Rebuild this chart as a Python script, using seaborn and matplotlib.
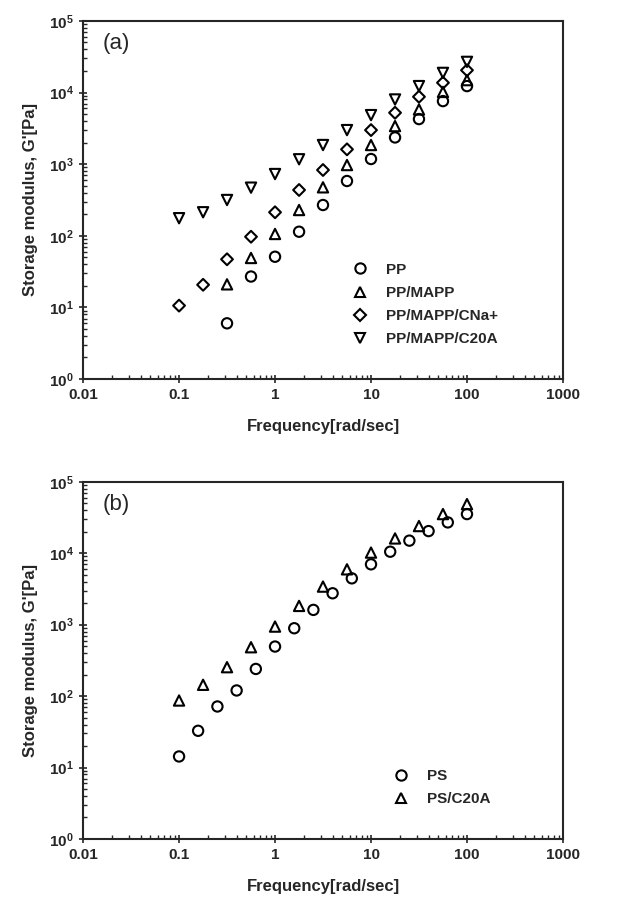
import numpy as np
import pandas as pd
import seaborn as sns
import matplotlib.pyplot as plt

# panel (a) - PP series
freq_a = [0.1, 0.178, 0.316, 0.562, 1, 1.78, 3.16, 5.62, 10, 17.8, 31.6, 56.2, 100]
g_pp = [None, None, 6.0, 27, 51, 114, 269, 582, 1180, 2360, 4260, 7590, 12300]
g_pp_mapp = [None, None, 21, 49, 106, 229, 475, 972, 1850, 3400, 5800, 10200, 14900]
g_pp_mapp_cna = [10.6, 20.7, 47, 97, 213, 436, 829, 1610, 2990, 5220, 8730, 13700, 20500]
g_pp_mapp_c20a = [176, 213, 316, 470, 728, 1170, 1850, 2990, 4840, 8000, 12300, 18800, 26800]
series_a = ['PP', 'PP/MAPP', 'PP/MAPP/CNa+', 'PP/MAPP/C20A']

# panel (b) - PS series
freq_ps = [0.1, 0.158, 0.251, 0.398, 0.631, 1, 1.585, 2.51, 3.98, 6.31, 10, 15.85, 25.1, 39.8, 63.1, 100]
g_ps = [14.3, 32.7, 71.6, 120, 240, 494, 891, 1610, 2750, 4450, 6990, 10500, 15000, 20400, 27000, 35300]
freq_psc = [0.1, 0.178, 0.316, 0.562, 1, 1.78, 3.16, 5.62, 10, 17.8, 31.6, 56.2, 100]
g_psc = [86.8, 144, 254, 483, 940, 1830, 3410, 5950, 10200, 16100, 24000, 35300, 48700]
series_b = ['PS', 'PS/C20A']

xticks = [0.01, 0.1, 1, 10, 100, 1000]
xtick_labels = ['0.01', '0.1', '1', '10', '100', '1000']
yticks = [1, 10, 100, 1000, 1e4, 1e5]
ytick_labels = [r'$\mathbf{10^{%d}}$' % i for i in range(6)]

sns.set_style('ticks')
plt.rcParams['font.family'] = ['Liberation Sans', 'DejaVu Sans']
plt.rcParams['mathtext.fontset'] = 'custom'
plt.rcParams['mathtext.rm'] = 'Liberation Sans'
plt.rcParams['mathtext.bf'] = 'Liberation Sans:bold'

rows = []
for name, vals in zip(series_a, [g_pp, g_pp_mapp, g_pp_mapp_cna, g_pp_mapp_c20a]):
    for f, g in zip(freq_a, vals):
        if g is not None:
            rows.append({'freq': f, 'G': g, 'sample': name})
df_a = pd.DataFrame(rows)

df_b = pd.concat([
    pd.DataFrame({'freq': freq_ps, 'G': g_ps, 'sample': 'PS'}),
    pd.DataFrame({'freq': freq_psc, 'G': g_psc, 'sample': 'PS/C20A'}),
])

fig = plt.figure(figsize=(6.2, 9.09), dpi=100)
ax1 = fig.add_axes([0.134, 0.583, 0.774, 0.394])
ax2 = fig.add_axes([0.134, 0.077, 0.774, 0.393])

marker_a = {'PP': 'o', 'PP/MAPP': '^', 'PP/MAPP/CNa+': 'D', 'PP/MAPP/C20A': 'v'}
size_a = {'PP': 55, 'PP/MAPP': 55, 'PP/MAPP/CNa+': 36, 'PP/MAPP/C20A': 55}
marker_b = {'PS': 'o', 'PS/C20A': '^'}


def style_axis(ax, label, legend_anchor):
    ax.set_xscale('log')
    ax.set_yscale('log')
    ax.set_xlim(0.01, 1000)
    ax.set_ylim(1, 1e5)
    ax.set_xticks(xticks)
    ax.set_xticklabels(xtick_labels, fontweight='bold', fontsize=11)
    ax.set_yticks(yticks)
    ax.set_yticklabels(ytick_labels, fontsize=11)
    ax.tick_params(which='major', direction='inout', length=6, width=1.2)
    ax.tick_params(which='minor', direction='in', length=3, width=1)
    for sp in ax.spines.values():
        sp.set_linewidth(1.5)
    ax.set_xlabel('Frequency[rad/sec]', fontweight='bold', fontsize=12, labelpad=12)
    ax.set_ylabel("Storage modulus, G'[Pa]", fontweight='bold', fontsize=12, labelpad=8)
    ax.text(0.04, 0.965, label, transform=ax.transAxes, fontsize=16, va='top')
    handles, labels = ax.get_legend_handles_labels()
    ax.legend(handles, labels, loc='lower left', bbox_to_anchor=legend_anchor,
              frameon=False, prop={'weight': 'bold', 'size': 11},
              handlelength=1.0, handletextpad=1.2, labelspacing=0.6, borderpad=0)


sns.scatterplot(data=df_a, x='freq', y='G', style='sample', markers=marker_a,
                style_order=series_a, size='sample', sizes=size_a, size_order=series_a,
                ax=ax1, facecolor='none', edgecolor='black', linewidth=1.5, color='black')
style_axis(ax1, '(a)', (0.545, 0.07))

sns.scatterplot(data=df_b, x='freq', y='G', style='sample', markers=marker_b,
                style_order=series_b, ax=ax2, s=55, facecolor='none',
                edgecolor='black', linewidth=1.5, color='black')
style_axis(ax2, '(b)', (0.63, 0.07))

fig.savefig('out.png', dpi=100)
